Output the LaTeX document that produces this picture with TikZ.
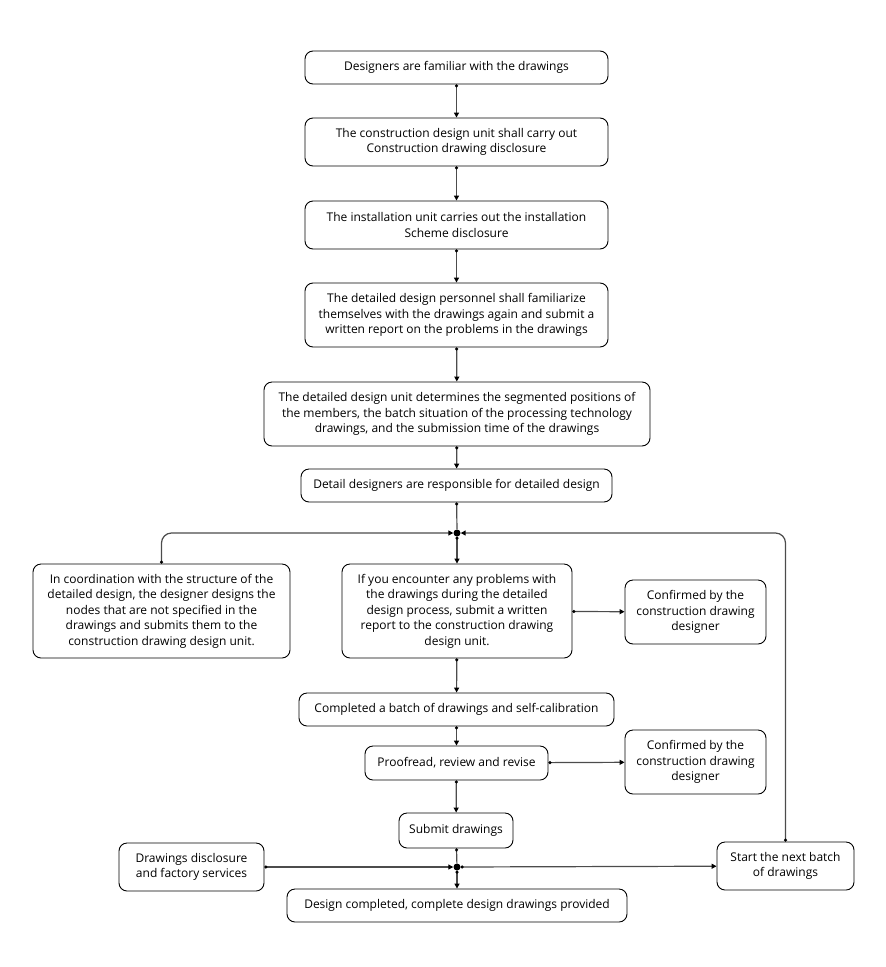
\documentclass[tikz,border=0pt]{standalone}
\usepackage{fontspec}
\setmainfont{Open Sans}
\usetikzlibrary{arrows.meta,positioning}
\tikzset{
  box/.style={draw=black, line width=0.9pt, rounded corners=8pt, align=center, inner sep=1pt, font=\fontsize{12}{15.5}\selectfont},
  conn/.style={draw=black!70, line width=1.2pt, {Circle[length=3pt,black]}-{Triangle[length=5pt,width=5pt,black]}},
  plain/.style={draw=black!70, line width=1.2pt, {Circle[length=3pt,black]}-},
  jdot/.style={circle, fill=black, inner sep=0pt, minimum size=7pt},
}
\begin{document}
\begin{tikzpicture}[x=1pt,y=-1pt]
\useasboundingbox (0,0) rectangle (886,967);
\node[box, minimum width=303pt, minimum height=33pt] (b1) at (456.5,67.5) {Designers are familiar with the drawings};
\node[box, minimum width=303pt, minimum height=48pt] (b2) at (456.5,142) {The construction design unit shall carry out\\Construction drawing disclosure};
\node[box, minimum width=303pt, minimum height=48pt] (b3) at (456.5,225) {The installation unit carries out the installation\\Scheme disclosure};
\node[box, minimum width=303pt, minimum height=64pt] (b4) at (456.5,315) {The detailed design personnel shall familiarize\\themselves with the drawings again and submit a\\written report on the problems in the drawings};
\node[box, minimum width=386pt, minimum height=64pt] (b5) at (457,414) {The detailed design unit determines the segmented positions of\\the members, the batch situation of the processing technology\\drawings, and the submission time of the drawings};
\node[box, minimum width=311pt, minimum height=33pt] (b6) at (456.5,485.5) {Detail designers are responsible for detailed design};
\node[jdot] (j1) at (457,533) {};
\node[box, minimum width=257pt, minimum height=94pt] (left) at (161.5,611) {In coordination with the structure of the\\detailed design, the designer designs the\\nodes that are not specified in the\\drawings and submits them to the\\construction drawing design unit.};
\node[box, minimum width=230pt, minimum height=94pt] (mid) at (457,611) {If you encounter any problems with\\the drawings during the detailed\\design process, submit a written\\report to the construction drawing\\design unit.};
\node[box, minimum width=141pt, minimum height=64pt] (c1) at (695.5,612) {Confirmed by the\\construction drawing\\designer};
\node[box, minimum width=315pt, minimum height=33pt] (b10) at (456.5,709.5) {Completed a batch of drawings and self-calibration};
\node[box, minimum width=183pt, minimum height=34pt] (b11) at (456.5,763) {Proofread, review and revise};
\node[box, minimum width=141pt, minimum height=64pt] (c2) at (695.5,762) {Confirmed by the\\construction drawing\\designer};
\node[box, minimum width=114pt, minimum height=35pt] (b13) at (456,830.5) {Submit drawings};
\node[box, minimum width=145pt, minimum height=48pt] (dd) at (191.5,867) {Drawings disclosure\\and factory services};
\node[jdot] (j2) at (457,867) {};
\node[box, minimum width=137pt, minimum height=48pt] (nb) at (785.5,866) {Start the next batch\\of drawings};
\node[box, minimum width=340pt, minimum height=33pt] (b16) at (457,905.5) {Design completed, complete design drawings provided};

\draw[conn] (b1) -- (b2);
\draw[conn] (b2) -- (b3);
\draw[conn] (b3) -- (b4);
\draw[conn] (b4) -- (b5);
\draw[conn] (b5) -- (b6);
\draw[plain] (b6) -- (j1);
\draw[conn] (j1) -- (mid);
\draw[conn, rounded corners=10pt] (left.north) |- (j1);
\draw[conn, rounded corners=10pt] (nb.north) |- (j1);
\draw[conn] (mid) -- (c1);
\draw[conn] (mid) -- (b10);
\draw[conn] (b10) -- (b11);
\draw[conn] (b11) -- (c2);
\draw[conn] (b11) -- (b13);
\draw[plain] (b13) -- (j2);
\draw[conn] (dd) -- (j2);
\draw[conn] (j2) -- (b16);
\draw[conn] (j2) -- (nb);
\end{tikzpicture}
\end{document}
